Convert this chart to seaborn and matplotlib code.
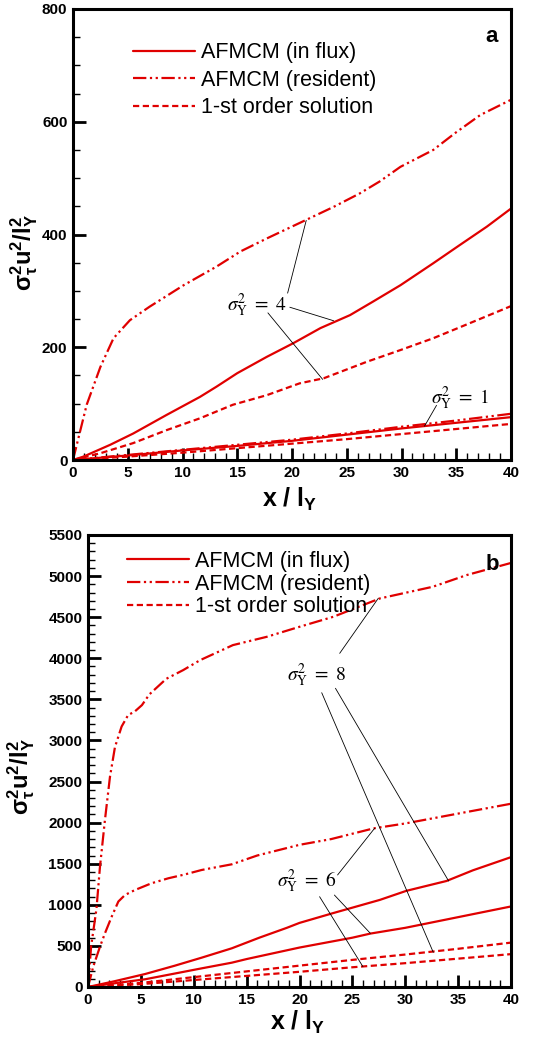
import numpy as np
import pandas as pd
import matplotlib
matplotlib.use("Agg")
import matplotlib.pyplot as plt
import seaborn as sns
from matplotlib.lines import Line2D
from matplotlib.ticker import MultipleLocator

sns.set_theme(style="white")
plt.rcParams['font.family'] = ['Liberation Sans', 'DejaVu Sans']
plt.rcParams['mathtext.fontset'] = 'custom'
plt.rcParams['mathtext.rm'] = 'Liberation Sans'
plt.rcParams['mathtext.it'] = 'Liberation Sans:italic'
plt.rcParams['mathtext.bf'] = 'Liberation Sans:bold'
for k in ['text.color', 'axes.labelcolor', 'xtick.color', 'ytick.color']:
    plt.rcParams[k] = 'black'

# ---------------- Panel a data ----------------
a_res4_x = [0, 1.25, 2.5, 3.7, 5.2, 7.0, 10.1, 13.1, 15.3, 17.7, 21.3, 23.8, 26.2, 28.0, 29.9, 32.9, 34.9, 37.2, 40]
a_res4_y = [0, 98, 165, 216, 248, 272, 310, 343, 370, 393, 426, 449, 473, 494, 520, 550, 580, 612, 639]
a_flux4_x = [0, 0.95, 3.4, 5.5, 8.55, 11.6, 13.1, 15.0, 17.7, 20.1, 22.6, 25.3, 27.4, 29.9, 32.9, 35.3, 37.8, 40]
a_flux4_y = [0, 6, 27, 47, 80, 112, 130, 154, 183, 207, 234, 257, 281, 310, 349, 381, 414, 446]
a_first4_x = [0, 2.5, 5.5, 8.55, 11.6, 14.6, 17.7, 20.7, 22.9, 26.8, 29.9, 32.9, 35.9, 40]
a_first4_y = [0, 12, 30, 53, 74, 98, 115, 136, 145, 174, 195, 216, 240, 273]

a_x1 = [0, 5, 10, 15, 20, 25, 30, 35, 40]
a_flux1_y = [0, 8, 17, 25, 34, 45, 56, 66, 76]
a_res1_y = [0, 9, 18, 27, 36, 47, 59, 70, 82]
a_first1_y = [0, 6, 13, 21, 29, 37, 46, 55, 64]

# ---------------- Panel b data ----------------
b_res8_x = [0, 0.3, 0.8, 1.13, 1.6, 2.08, 2.55, 3.18, 3.8, 4.4, 5.1, 5.8, 7.4, 9.0, 10.6, 13.7, 16.9, 20.0, 23.2, 27.6, 32.6, 35.8, 40]
b_res8_y = [0, 500, 950, 1460, 2030, 2560, 2920, 3170, 3310, 3350, 3430, 3560, 3750, 3856, 3977, 4160, 4261, 4383, 4505, 4728, 4870, 5012, 5160]
b_res6_x = [0, 0.5, 1.13, 1.6, 2.24, 2.87, 3.5, 4.44, 6.0, 7.6, 9.2, 10.75, 13.6, 16, 20, 23, 27, 30, 35, 40]
b_res6_y = [0, 250, 490, 653, 856, 1040, 1120, 1180, 1262, 1323, 1371, 1424, 1493, 1600, 1730, 1800, 1930, 1990, 2110, 2230]
b_flux8_x = [0, 2.5, 5.4, 8.2, 10.75, 13.6, 16.2, 18.8, 20, 23.2, 27.6, 30.1, 33.9, 36.4, 40]
b_flux8_y = [0, 70, 158, 259, 357, 471, 600, 720, 780, 900, 1060, 1170, 1290, 1420, 1580]
b_flux6_x = [0, 2.5, 5.4, 10.75, 13.6, 15, 20, 25, 26.7, 30, 35, 40]
b_flux6_y = [0, 45, 94, 227, 296, 340, 480, 600, 650, 720, 850, 980]
b_first_x = [0, 5, 10, 15, 20, 25, 30, 35, 40]
b_first8_y = [0, 50, 120, 190, 260, 330, 395, 465, 540]
b_first6_y = [0, 35, 85, 135, 185, 240, 290, 345, 400]

RED = '#e00000'
LW = 1.6
RES_LS = (0, (6, 1.6, 1, 1.6, 1, 1.6))
FIRST_LS = (0, (2.8, 1.6))


def draw(ax, x, y, kind):
    ls = {'flux': '-', 'res': RES_LS, 'first': FIRST_LS}[kind]
    df = pd.DataFrame({'x': x, 'y': y})
    sns.lineplot(data=df, x='x', y='y', ax=ax, color=RED, linewidth=LW,
                 linestyle=ls, estimator=None, sort=False)


def style_axes(ax, ymax, ymajor, yminor):
    ax.set_xlim(0, 40)
    ax.set_ylim(0, ymax)
    ax.xaxis.set_major_locator(MultipleLocator(5))
    ax.xaxis.set_minor_locator(MultipleLocator(1))
    ax.yaxis.set_major_locator(MultipleLocator(ymajor))
    ax.yaxis.set_minor_locator(MultipleLocator(yminor))
    ax.tick_params(which='both', direction='in', top=False, right=False,
                   left=True, bottom=True, color='black', labelcolor='black')
    ax.tick_params(which='major', length=9, width=2.0, pad=4, labelsize=11)
    ax.tick_params(which='minor', length=5, width=1.0)
    for lab in ax.get_xticklabels() + ax.get_yticklabels():
        lab.set_fontweight('bold')
    for s in ax.spines.values():
        s.set_linewidth(2.2)
        s.set_color('black')
    ax.grid(False)
    ax.set_facecolor('white')


def legend(ax, anchor, spacing):
    handles = [Line2D([], [], color=RED, lw=LW, linestyle='-'),
               Line2D([], [], color=RED, lw=LW, linestyle=RES_LS),
               Line2D([], [], color=RED, lw=LW, linestyle=FIRST_LS)]
    labels = ['AFMCM (in flux)', 'AFMCM (resident)', '1-st order solution']
    ax.legend(handles, labels, loc='upper left', bbox_to_anchor=anchor,
              frameon=False, fontsize=15.5, handlelength=2.9, handletextpad=0.25,
              labelspacing=spacing, borderpad=0, borderaxespad=0,
              labelcolor='black')


def note(ax, text, xy, lines):
    ax.text(xy[0], xy[1], text, ha='center', va='center', fontsize=14,
            math_fontfamily='stix', color='black')
    for (x0, y0, x1, y1) in lines:
        ax.plot([x0, x1], [y0, y1], color='black', lw=0.6)


fig = plt.figure(figsize=(5.42, 10.39), dpi=100)
W, H = 542, 1039
ax_a = fig.add_axes([73 / W, (H - 460) / H, 438 / W, 451 / H])
ax_b = fig.add_axes([88 / W, (H - 987) / H, 423 / W, 452 / H])

YLABEL = r'$\mathbf{\sigma_\tau^2 u^2/l_Y^2}$'
XLABEL = r'$\mathbf{x\ /\ l_Y}$'
NOTE4 = r'$\sigma_{\mathrm{Y}}^{2}\ =\ 4$'
NOTE1 = r'$\sigma_{\mathrm{Y}}^{2}\ =\ 1$'
NOTE8 = r'$\sigma_{\mathrm{Y}}^{2}\ =\ 8$'
NOTE6 = r'$\sigma_{\mathrm{Y}}^{2}\ =\ 6$'

# Panel a
draw(ax_a, a_x1, a_first1_y, 'first')
draw(ax_a, a_x1, a_res1_y, 'res')
draw(ax_a, a_x1, a_flux1_y, 'flux')
draw(ax_a, a_first4_x, a_first4_y, 'first')
draw(ax_a, a_res4_x, a_res4_y, 'res')
draw(ax_a, a_flux4_x, a_flux4_y, 'flux')
style_axes(ax_a, 800, 200, 50)
legend(ax_a, (0.137, 0.926), 0.3)
note(ax_a, NOTE4, (16.8, 275),
     [(19.6, 296, 21.3, 425), (19.8, 271, 23.8, 247), (17.8, 261, 22.8, 143)])
note(ax_a, NOTE1, (35.4, 110),
     [(33.2, 97, 32.1, 60)])
ax_a.text(0.955, 0.94, 'a', transform=ax_a.transAxes, fontsize=16,
          fontweight='bold', ha='center', va='center')
ax_a.set_xlabel(XLABEL, fontsize=18)
ax_a.set_ylabel(YLABEL, fontsize=17)
ax_a.xaxis.set_label_coords(0.495, -0.058)
ax_a.yaxis.set_label_coords(-0.075, 0.46)

# Panel b
draw(ax_b, b_first_x, b_first6_y, 'first')
draw(ax_b, b_first_x, b_first8_y, 'first')
draw(ax_b, b_res6_x, b_res6_y, 'res')
draw(ax_b, b_res8_x, b_res8_y, 'res')
draw(ax_b, b_flux6_x, b_flux6_y, 'flux')
draw(ax_b, b_flux8_x, b_flux8_y, 'flux')
style_axes(ax_b, 5500, 500, 100)
legend(ax_b, (0.092, 0.965), 0.08)
note(ax_b, NOTE8, (21.65, 3797),
     [(23.8, 4060, 27.45, 4730), (23.4, 3635, 34.1, 1290), (22.1, 3581, 32.65, 422)])
note(ax_b, NOTE6, (20.7, 1281),
     [(23.6, 1363, 27.1, 1931), (23.3, 1119, 26.7, 653), (21.9, 1099, 26.0, 247)])
ax_b.text(0.955, 0.935, 'b', transform=ax_b.transAxes, fontsize=16,
          fontweight='bold', ha='center', va='center')
ax_b.set_xlabel(XLABEL, fontsize=18)
ax_b.set_ylabel(YLABEL, fontsize=17)
ax_b.xaxis.set_label_coords(0.495, -0.048)
ax_b.yaxis.set_label_coords(-0.12, 0.465)

fig.savefig('out.png', dpi=100, facecolor='white')
